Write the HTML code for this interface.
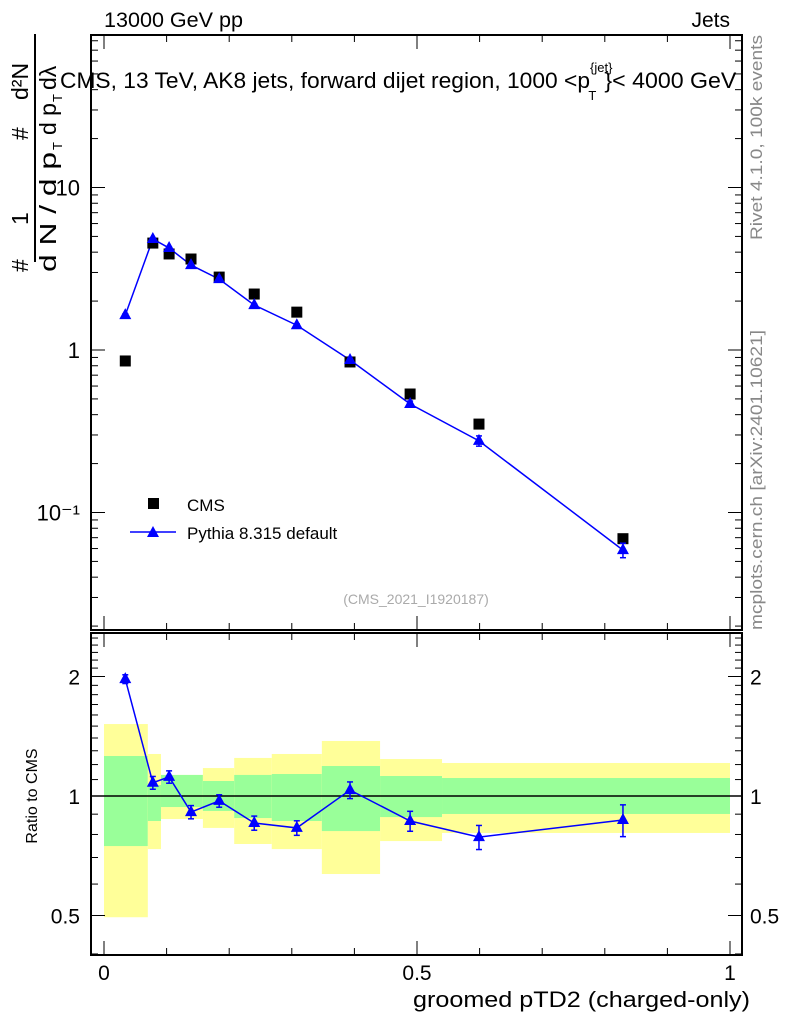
<!DOCTYPE html>
<html><head><meta charset="utf-8"><style>
body{margin:0;background:#fff;}
svg{display:block;font-family:"Liberation Sans",sans-serif;}
</style></head><body>
<svg id="c" width="786" height="1024" viewBox="0 0 786 1024">
<text x="104" y="27" font-size="21" textLength="139" lengthAdjust="spacingAndGlyphs">13000 GeV pp</text>
<text x="730" y="27" font-size="21" text-anchor="end">Jets</text>
<text x="60" y="88" font-size="22"><tspan textLength="530" lengthAdjust="spacingAndGlyphs">CMS, 13 TeV, AK8 jets, forward dijet region, 1000 &lt;p</tspan><tspan font-size="13" dy="-16">{jet}</tspan><tspan font-size="13" dx="-24" dy="28">T</tspan><tspan dx="8" dy="-12" textLength="132" lengthAdjust="spacingAndGlyphs">}&lt; 4000 GeV</tspan></text>
<g font-size="23">
<text transform="translate(28,272) rotate(-90)">#</text>
<text transform="translate(28,225) rotate(-90)">1</text>
<line x1="35" y1="34" x2="35" y2="262" stroke="#000" stroke-width="2"/>
<text transform="translate(56,272) rotate(-90)" textLength="120" lengthAdjust="spacingAndGlyphs">d N / d p</text>
<text transform="translate(62,150) rotate(-90)" font-size="13">T</text>
<text transform="translate(28,140) rotate(-90)">#</text>
<text transform="translate(28,100) rotate(-90)">d²N</text>
<text transform="translate(56,135) rotate(-90)">d p</text>
<text transform="translate(62,102) rotate(-90)" font-size="13">T</text>
<text transform="translate(56,90) rotate(-90)">dλ</text>
</g>
<text transform="translate(762,240) rotate(-90)" font-size="17" fill="#888" textLength="205" lengthAdjust="spacingAndGlyphs">Rivet 4.1.0,  100k events</text>
<text transform="translate(762,630) rotate(-90)" font-size="17" fill="#888" textLength="300" lengthAdjust="spacingAndGlyphs">mcplots.cern.ch [arXiv:2401.10621]</text>
<text x="416" y="604" font-size="14" fill="#aaa" text-anchor="middle">(CMS_2021_I1920187)</text>
<g id="main"></g>
<g id="ratio"></g>
<text x="750" y="1007" font-size="22" text-anchor="end" textLength="337" lengthAdjust="spacingAndGlyphs">groomed pTD2 (charged-only)</text>
<text transform="translate(37,796) rotate(-90)" font-size="16" text-anchor="middle">Ratio to CMS</text>
<g>
<rect x="148" y="498" width="11" height="11" fill="#000"/>
<text x="187" y="511" font-size="17">CMS</text>
<line x1="130" y1="532" x2="176" y2="532" stroke="#00f" stroke-width="1.5"/>
<polygon points="153,526 159,537 147,537" fill="#00f"/>
<text x="187" y="539" font-size="17">Pythia 8.315 default</text>
</g>
</svg>
<script>
const xs=[0.034,0.078,0.104,0.139,0.184,0.240,0.308,0.393,0.489,0.599,0.829];
const cms=[0.856,4.55,3.9,3.63,2.81,2.21,1.71,0.844,0.536,0.35,0.069];
const pythia=[1.64,4.82,4.24,3.33,2.73,1.89,1.42,0.868,0.465,0.276,0.0587];
const pythiaErr=[0.03,0.06,0.05,0.05,0.04,0.03,0.03,0.02,0.02,0.02,0.006];
const ratio=[1.97,1.08,1.117,0.911,0.972,0.855,0.831,1.035,0.865,0.788,0.87];
const ratioErr=[0.05,0.04,0.04,0.035,0.035,0.035,0.035,0.05,0.05,0.055,0.08];
const bandEdges=[0,0.07,0.091,0.158,0.208,0.268,0.348,0.441,0.54,1.0];
const yelLo=[0.495,0.735,0.875,0.831,0.757,0.735,0.636,0.770,0.807];
const yelHi=[1.518,1.276,1.130,1.176,1.247,1.276,1.376,1.239,1.211];
const grnLo=[0.748,0.865,0.938,0.917,0.880,0.865,0.816,0.885,0.901];
const grnHi=[1.261,1.066,1.130,1.091,1.130,1.136,1.190,1.123,1.110];
const xTicks=[0,0.5,1];
const xTickLabels=["0","0.5","1"];
const yTicks=[0.1,1,10];
const yTickLabels=["10⁻¹","1","10"];
const rTicks=[0.5,1,2];
const rTickLabels=["0.5","1","2"];

const NS="http://www.w3.org/2000/svg";
const L=91,R=742,MT=35,MB=630,RT=633,RB=955;
const X=v=>104+626*v;
const Y=v=>350-162.5*Math.log10(v);
const YR=v=>796-119.5*Math.log2(v);
function mk(p,t,a){const e=document.createElementNS(NS,t);for(const k in a)e.setAttribute(k,a[k]);p.appendChild(e);return e;}
const main=document.getElementById('main'),rat=document.getElementById('ratio');

for(let i=0;i<yelLo.length;i++){
 const x1=X(bandEdges[i]),x2=X(bandEdges[i+1]);
 const y=mk(rat,'rect',{x:x1,y:YR(yelHi[i]),width:x2-x1,height:YR(yelLo[i])-YR(yelHi[i]),fill:'#ffff99'});
 
 
 const g=mk(rat,'rect',{x:x1,y:YR(grnHi[i]),width:x2-x1,height:YR(grnLo[i])-YR(grnHi[i]),fill:'#99ff99'});
 
 
}
mk(rat,'line',{x1:L,x2:R,y1:YR(1),y2:YR(1),stroke:'#000','stroke-width':1.5});

for(const [t,b] of [[MT,MB],[RT,RB]]){
 const f=mk(document.getElementById('c'),'rect',{x:L,y:t,width:R-L,height:b-t,fill:'none',stroke:'#000','stroke-width':2});
 
 
}
for(const [t,b] of [[MT,MB],[RT,RB]]){
 for(let v=0;v<=1.0001;v+=0.1){const big=Math.abs(v*2-Math.round(v*2))<1e-6;const h=big?14:7;
  mk(main,'line',{x1:X(v),x2:X(v),y1:b,y2:b-h,stroke:'#000'});
  mk(main,'line',{x1:X(v),x2:X(v),y1:t,y2:t+h,stroke:'#000'});}
}
xTicks.forEach((v,i)=>{const t=mk(rat,'text',{x:X(v),y:980,'font-size':21,'text-anchor':'middle'});t.textContent=xTickLabels[i];
 
 });
for(let d=-2;d<=1;d++)for(let m=1;m<=9;m++){const v=m*Math.pow(10,d);const y=Y(v);if(y<MT||y>MB)continue;const h=m==1?14:7;
 mk(main,'line',{x1:L,x2:L+h,y1:y,y2:y,stroke:'#000'});mk(main,'line',{x1:R,x2:R-h,y1:y,y2:y,stroke:'#000'});}
yTicks.forEach((v,i)=>{const t=mk(main,'text',{x:80,y:Y(v)+8,'font-size':22,'text-anchor':'end'});t.textContent=yTickLabels[i];
 
 });
for(let v=0.4;v<=2.6;v+=0.1){const y=YR(v);if(y<RT||y>RB)continue;const big=[0.5,1,2].some(q=>Math.abs(q-v)<1e-6);const h=big?14:7;
 mk(rat,'line',{x1:L,x2:L+h,y1:y,y2:y,stroke:'#000'});mk(rat,'line',{x1:R,x2:R-h,y1:y,y2:y,stroke:'#000'});}
rTicks.forEach((v,i)=>{for(const [x,a] of [[80,'end'],[750,'start']]){const t=mk(rat,'text',{x:x,y:YR(v)+8,'font-size':21,'text-anchor':a});t.textContent=rTickLabels[i];
 
 }});

function tri(p,x,y){return mk(p,'polygon',{points:`${x},${y-7} ${x+6},${y+4} ${x-6},${y+4}`,fill:'#00f'});}
function ebar(p,cx,y1,y2){
 mk(p,'line',{x1:cx,x2:cx,y1:y1,y2:y2,stroke:'#00f','stroke-width':1.5});
 mk(p,'line',{x1:cx-3,x2:cx+3,y1:y1,y2:y1,stroke:'#00f','stroke-width':1.5});
 mk(p,'line',{x1:cx-3,x2:cx+3,y1:y2,y2:y2,stroke:'#00f','stroke-width':1.5});}
mk(main,'polyline',{points:xs.map((x,i)=>X(x)+','+Y(pythia[i])).join(' '),fill:'none',stroke:'#00f','stroke-width':1.5});
xs.forEach((x,i)=>{
 const s=mk(main,'rect',{x:X(x)-5.5,y:Y(cms[i])-5.5,width:11,height:11,fill:'#000'});
 
 
 ebar(main,X(x),Y(pythia[i]+pythiaErr[i]),Y(pythia[i]-pythiaErr[i]));
 const t=tri(main,X(x),Y(pythia[i]));
 
 
});
mk(rat,'polyline',{points:xs.map((x,i)=>X(x)+','+YR(ratio[i])).join(' '),fill:'none',stroke:'#00f','stroke-width':1.5});
xs.forEach((x,i)=>{
 const cx=X(x);
 ebar(rat,cx,YR(ratio[i]+ratioErr[i]),YR(ratio[i]-ratioErr[i]));
 const t=tri(rat,cx,YR(ratio[i]));
 
 
});
</script>
</body></html>
